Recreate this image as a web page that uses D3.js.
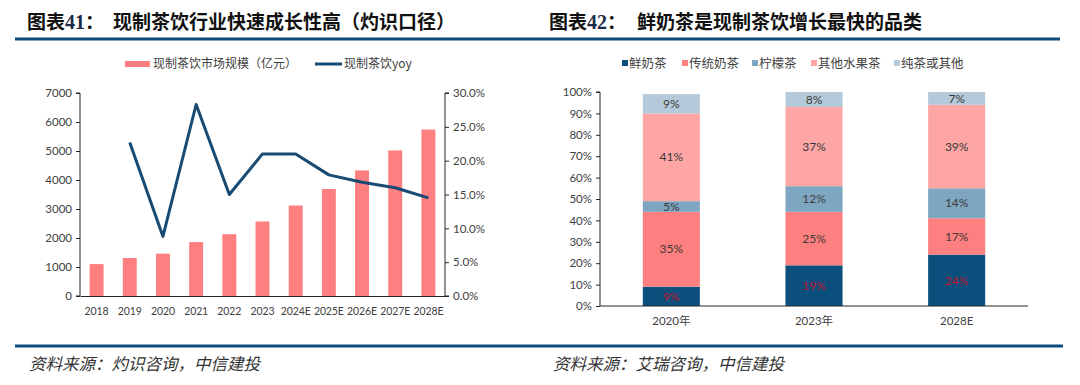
<!DOCTYPE html>
<html>
<head>
<meta charset="utf-8">
<script src="https://cdn.jsdelivr.net/npm/d3@7"></script>
<style>
  body { margin: 0; background: #fff; }
  svg { display: block; }
  .tick text { font-family: Lato, "Noto Sans CJK SC", sans-serif; fill: #404040; }
</style>
</head>
<body>
<svg width="1080" height="385"></svg>
<script>
// ---- left chart data ----
var years = ["2018", "2019", "2020", "2021", "2022", "2023", "2024E", "2025E", "2026E", "2027E", "2028E"];
var marketSize = [1100, 1310, 1460, 1860, 2130, 2570, 3120, 3690, 4330, 5020, 5740];
var yoy = [null, 22.7, 8.8, 28.3, 15.0, 21.0, 21.0, 17.9, 16.8, 16.0, 14.5];
var leftTicks = [0, 1000, 2000, 3000, 4000, 5000, 6000, 7000];
var rightTicks = [0, 5, 10, 15, 20, 25, 30];

// ---- right chart data ----
var periods = ["2020年", "2023年", "2028E"];
var categories = ["鲜奶茶", "传统奶茶", "柠檬茶", "其他水果茶", "纯茶或其他"];
var freshMilkTea = [9, 19, 24];
var traditionalMilkTea = [35, 25, 17];
var lemonTea = [5, 12, 14];
var otherFruitTea = [41, 37, 39];
var pureTea = [9, 8, 7];
var shareTicks = [0, 10, 20, 30, 40, 50, 60, 70, 80, 90, 100];

var colours = ["#0b4f7d", "#fe7f7f", "#7fa6c1", "#fea6a6", "#b4c9d9"];
var barPink = "#fe7f7f";
var lineBlue = "#174b73";
var navy = "#0e4c7e";
var cjk = "'Noto Sans CJK SC', sans-serif";
var num = "Lato, 'Noto Sans CJK SC', sans-serif";

var svg = d3.select("svg");

// ---- frame: titles, rules, sources ----
function header(x, no, title, x2) {
  var t = svg.append("text")
    .attr("x", x).attr("y", 29)
    .attr("font-size", 19).attr("font-weight", "bold")
    .attr("font-family", cjk).attr("fill", "#111");
  t.append("tspan").text("图表");
  t.append("tspan").attr("font-family", "'Liberation Serif', serif")
    .attr("font-size", 20).attr("fill", "#1d2c44").text(no);
  t.append("tspan").text("：");
  svg.append("text")
    .attr("x", x2).attr("y", 29)
    .attr("font-size", 19).attr("font-weight", "bold")
    .attr("font-family", cjk).attr("fill", "#111")
    .text(title);
}
header(27, "41", "现制茶饮行业快速成长性高（灼识口径）", 113);
header(549, "42", "鲜奶茶是现制茶饮增长最快的品类", 637);

svg.append("line").attr("x1", 15).attr("x2", 540).attr("y1", 39).attr("y2", 39)
  .attr("stroke", navy).attr("stroke-width", 3);
svg.append("line").attr("x1", 540).attr("x2", 1060).attr("y1", 39).attr("y2", 39)
  .attr("stroke", navy).attr("stroke-width", 3);
svg.append("line").attr("x1", 15).attr("x2", 1063).attr("y1", 346).attr("y2", 346)
  .attr("stroke", navy).attr("stroke-width", 3);

svg.append("text").attr("x", 29).attr("y", 370)
  .attr("font-size", 16.5).attr("font-style", "italic").attr("font-family", cjk)
  .attr("fill", "#333").text("资料来源：灼识咨询，中信建投");
svg.append("text").attr("x", 553).attr("y", 370)
  .attr("font-size", 16.5).attr("font-style", "italic").attr("font-family", cjk)
  .attr("fill", "#333").text("资料来源：艾瑞咨询，中信建投");

// ---- left chart ----
var L = { left: 80, right: 445, top: 93, bottom: 296 };

var x = d3.scaleBand().domain(years).range([L.left, L.right]).paddingInner(0.58).paddingOuter(0.29);
var y = d3.scaleLinear().domain([0, 7000]).range([L.bottom, L.top]);
var y2 = d3.scaleLinear().domain([0, 30]).range([L.bottom, L.top]);

svg.append("g").selectAll("rect")
  .data(years)
  .enter()
  .append("rect")
  .attr("x", function(d) { return x(d); })
  .attr("width", x.bandwidth())
  .attr("y", function(d, i) { return y(marketSize[i]); })
  .attr("height", function(d, i) { return L.bottom - y(marketSize[i]); })
  .attr("fill", barPink);

var line = d3.line()
  .defined(function(d) { return d != null; })
  .x(function(d, i) { return x(years[i]) + x.bandwidth() / 2; })
  .y(function(d) { return y2(d); });

svg.append("path")
  .datum(yoy)
  .attr("d", line)
  .attr("fill", "none")
  .attr("stroke", lineBlue)
  .attr("stroke-width", 3)
  .attr("stroke-linejoin", "round");

var yAxisL = svg.append("g")
  .attr("transform", "translate(" + L.left + ",0)")
  .call(d3.axisLeft(y).tickValues(leftTicks).tickSize(4).tickPadding(4)
    .tickFormat(d3.format("d")));
var yAxisR = svg.append("g")
  .attr("transform", "translate(" + L.right + ",0)")
  .call(d3.axisRight(y2).tickValues(rightTicks).tickSize(4).tickPadding(4)
    .tickFormat(function(d) { return d.toFixed(1) + "%"; }));
var xAxisL = svg.append("g")
  .attr("transform", "translate(0," + L.bottom + ")")
  .call(d3.axisBottom(x).tickSize(0).tickPadding(12));
xAxisL.selectAll(".tick text").attr("font-size", 10.5).attr("letter-spacing", -0.1);
yAxisL.selectAll(".tick text").attr("font-size", 11.5);
yAxisR.selectAll(".tick text").attr("font-size", 11.5);
[yAxisL, yAxisR, xAxisL].forEach(function(g) {
  g.selectAll("path, line").attr("stroke", "#262626");
});
yAxisL.select(".domain").attr("d", "M-4," + L.top + "H0V" + L.bottom + "H-4");
yAxisR.select(".domain").attr("d", "M4," + L.top + "H0V" + L.bottom + "H4");

// legend left
var legL = svg.append("g").attr("font-family", cjk).attr("font-size", 12).attr("fill", "#404040");
legL.append("rect").attr("x", 125).attr("y", 61).attr("width", 25).attr("height", 6).attr("fill", barPink);
legL.append("text").attr("x", 153).attr("y", 68).text("现制茶饮市场规模（亿元）");
legL.append("line").attr("x1", 315).attr("x2", 342).attr("y1", 64).attr("y2", 64)
  .attr("stroke", lineBlue).attr("stroke-width", 3);
legL.append("text").attr("x", 344).attr("y", 68).text("现制茶饮yoy");

// ---- right chart ----
var R = { left: 600, right: 1028, top: 92, bottom: 306 };

var xb = d3.scaleBand().domain(periods).range([R.left, R.right]).paddingInner(0.6).paddingOuter(0.3);
var ys = d3.scaleLinear().domain([0, 100]).range([R.bottom, R.top]).clamp(true);

var rows = periods.map(function(p, i) {
  return {
    period: p,
    "鲜奶茶": freshMilkTea[i],
    "传统奶茶": traditionalMilkTea[i],
    "柠檬茶": lemonTea[i],
    "其他水果茶": otherFruitTea[i],
    "纯茶或其他": pureTea[i]
  };
});
var series = d3.stack().keys(categories)(rows);

var layers = svg.append("g").selectAll("g")
  .data(series)
  .enter()
  .append("g")
  .attr("fill", function(d, i) { return colours[i]; });

layers.selectAll("rect")
  .data(function(d) { return d; })
  .enter()
  .append("rect")
  .attr("x", function(d) { return xb(d.data.period); })
  .attr("width", xb.bandwidth())
  .attr("y", function(d) { return ys(d[1]); })
  .attr("height", function(d) { return ys(d[0]) - ys(d[1]); });

layers.selectAll("text")
  .data(function(d, i) { return d.map(function(s) { return { s: s, k: i, v: s.data[d.key] }; }); })
  .enter()
  .append("text")
  .attr("x", function(d) { return xb(d.s.data.period) + xb.bandwidth() / 2; })
  .attr("y", function(d) { return (ys(d.s[0]) + ys(d.s[1])) / 2; })
  .attr("dy", "0.35em")
  .attr("text-anchor", "middle")
  .attr("font-family", num)
  .attr("font-size", 12)
  .attr("fill", function(d) { return d.k === 0 ? "#c0142c" : "#3a3a3a"; })
  .text(function(d) { return d.v + "%"; });

var yAxisS = svg.append("g")
  .attr("transform", "translate(" + R.left + ",0)")
  .call(d3.axisLeft(ys).tickValues(shareTicks).tickSize(4).tickPadding(4)
    .tickFormat(function(d) { return d + "%"; }));
var xAxisS = svg.append("g")
  .attr("transform", "translate(0," + R.bottom + ")")
  .call(d3.axisBottom(xb).tickSize(0).tickPadding(11));
yAxisS.selectAll(".tick text").attr("font-size", 11.5);
xAxisS.selectAll(".tick text").attr("font-size", 11.5);
[yAxisS, xAxisS].forEach(function(g) {
  g.selectAll("path, line").attr("stroke", "#262626");
});
yAxisS.select(".domain").attr("d", "M-4," + R.top + "H0V" + R.bottom);
xAxisS.select(".domain").attr("d", "M" + R.left + ",0H" + R.right);

// legend right
var legR = svg.append("g").attr("font-family", cjk).attr("font-size", 12.5).attr("fill", "#404040");
var legX = [622, 682, 752, 811, 894];
categories.forEach(function(c, i) {
  legR.append("rect").attr("x", legX[i]).attr("y", 60).attr("width", 6).attr("height", 6).attr("fill", colours[i]);
  legR.append("text").attr("x", legX[i] + 7).attr("y", 68).text(c);
});
</script>
</body>
</html>
